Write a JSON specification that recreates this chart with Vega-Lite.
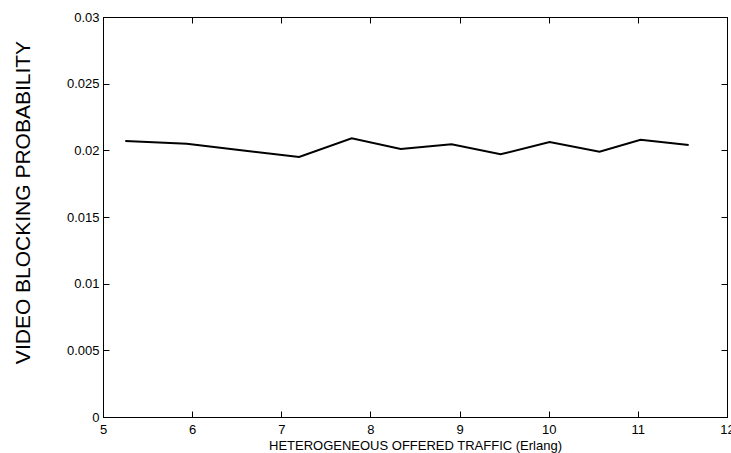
{
  "$schema": "https://vega.github.io/schema/vega-lite/v6.json",
  "width": 624,
  "height": 400,
  "autosize": {"type": "none"},
  "padding": {"left": 103, "top": 17, "right": 4, "bottom": 36},
  "background": "white",
  "config": {
    "view": {"stroke": "black", "strokeWidth": 1},
    "axis": {
      "grid": false,
      "domainColor": "black",
      "tickColor": "black",
      "labelColor": "black",
      "titleColor": "black",
      "labelFont": "Liberation Sans",
      "titleFont": "Liberation Sans",
      "labelFontSize": 13,
      "titleFontWeight": "normal",
      "tickSize": -6
    }
  },
  "data": {
    "values": [
      {"traffic": 5.25, "prob": 0.0207},
      {"traffic": 5.94, "prob": 0.0205},
      {"traffic": 6.55, "prob": 0.0200},
      {"traffic": 7.20, "prob": 0.0195},
      {"traffic": 7.79, "prob": 0.0209},
      {"traffic": 8.34, "prob": 0.0201},
      {"traffic": 8.91, "prob": 0.02045},
      {"traffic": 9.46, "prob": 0.0197},
      {"traffic": 10.01, "prob": 0.02062},
      {"traffic": 10.57, "prob": 0.0199},
      {"traffic": 11.03, "prob": 0.0208},
      {"traffic": 11.57, "prob": 0.0204}
    ]
  },
  "layer": [
    {
      "mark": {"type": "line", "color": "black", "strokeWidth": 2},
      "encoding": {
        "x": {
          "field": "traffic", "type": "quantitative",
          "scale": {"domain": [5, 12], "nice": false, "zero": false},
          "axis": {
            "values": [5, 6, 7, 8, 9, 10, 11, 12],
            "format": "d",
            "title": "HETEROGENEOUS OFFERED TRAFFIC (Erlang)",
            "titleFontSize": 13,
            "titlePadding": 3,
            "labelPadding": 12,
            "labelFlush": false,
            "labelOverlap": false
          }
        },
        "y": {
          "field": "prob", "type": "quantitative",
          "scale": {"domain": [0, 0.03], "nice": false},
          "axis": {
            "values": [0, 0.005, 0.01, 0.015, 0.02, 0.025, 0.03],
            "format": "~g",
            "title": "VIDEO BLOCKING PROBABILITY",
            "titleFontSize": 21,
            "titlePadding": 33,
            "titleY": 185,
            "labelPadding": 10,
            "labelFlush": false,
            "labelOverlap": false
          }
        }
      }
    },
    {
      "mark": {"type": "line", "opacity": 0},
      "encoding": {
        "x": {
          "field": "traffic", "type": "quantitative",
          "scale": {"domain": [5, 12], "nice": false, "zero": false},
          "axis": {"orient": "top", "values": [5, 6, 7, 8, 9, 10, 11, 12], "labels": false, "title": null}
        },
        "y": {
          "field": "prob", "type": "quantitative",
          "scale": {"domain": [0, 0.03], "nice": false},
          "axis": {"orient": "right", "values": [0, 0.005, 0.01, 0.015, 0.02, 0.025, 0.03], "labels": false, "title": null}
        }
      }
    }
  ],
  "resolve": {"axis": {"x": "independent", "y": "independent"}}
}
